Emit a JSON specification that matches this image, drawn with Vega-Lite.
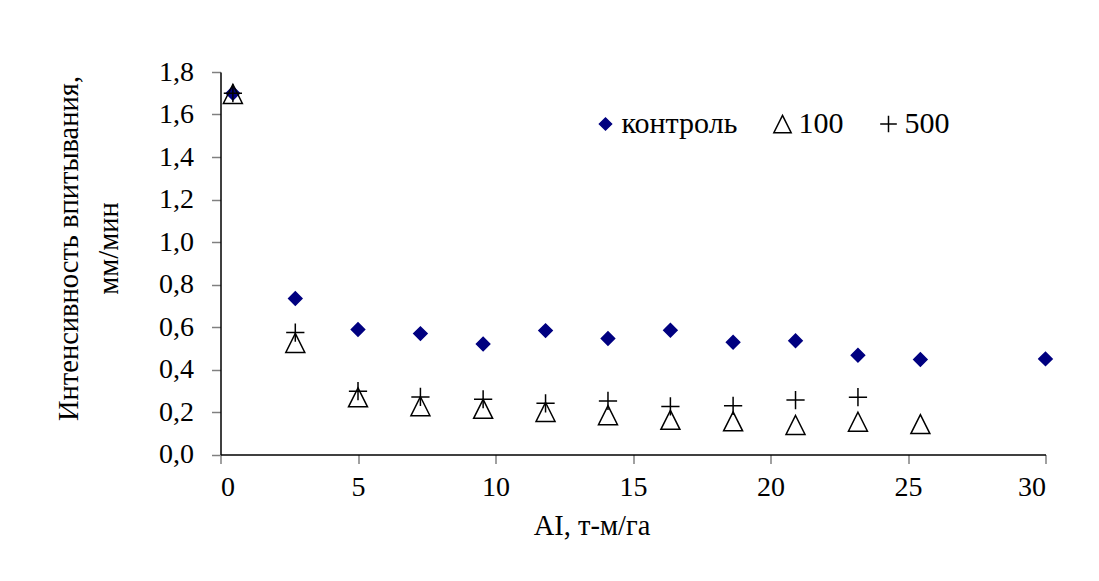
{
  "$schema": "https://vega.github.io/schema/vega-lite/v6.json",
  "autosize": "none",
  "width": 825,
  "height": 382.5,
  "padding": {"left": 220.5, "top": 72, "right": 53.5, "bottom": 126.5},
  "background": "white",
  "config": {
    "locale": {"number": {"decimal": ",", "thousands": " ", "grouping": [3], "currency": ["", ""]}},
    "font": "Liberation Serif",
    "view": {"stroke": null},
    "axis": {
      "grid": false,
      "domainColor": "black",
      "domainWidth": 1.5,
      "tickColor": "#808080",
      "tickWidth": 1.5,
      "tickSize": 9,
      "titleFont": "Liberation Serif",
      "titleFontSize": 28.5,
      "titleFontWeight": "normal",
      "titleColor": "black"
    },
    "legend": {
      "symbolSize": 300,
      "symbolStrokeWidth": 1.5
    }
  },
  "data": {
    "values": [
      {"ai": 0.45, "v": 1.70, "series": "контроль"},
      {"ai": 2.72, "v": 0.734, "series": "контроль"},
      {"ai": 5.0, "v": 0.588, "series": "контроль"},
      {"ai": 7.27, "v": 0.569, "series": "контроль"},
      {"ai": 9.55, "v": 0.52, "series": "контроль"},
      {"ai": 11.82, "v": 0.583, "series": "контроль"},
      {"ai": 14.09, "v": 0.546, "series": "контроль"},
      {"ai": 16.36, "v": 0.585, "series": "контроль"},
      {"ai": 18.64, "v": 0.528, "series": "контроль"},
      {"ai": 20.91, "v": 0.535, "series": "контроль"},
      {"ai": 23.18, "v": 0.467, "series": "контроль"},
      {"ai": 25.45, "v": 0.447, "series": "контроль"},
      {"ai": 30.0, "v": 0.45, "series": "контроль"},
      {"ai": 0.45, "v": 1.697, "series": "100"},
      {"ai": 2.72, "v": 0.525, "series": "100"},
      {"ai": 5.0, "v": 0.269, "series": "100"},
      {"ai": 7.27, "v": 0.227, "series": "100"},
      {"ai": 9.55, "v": 0.215, "series": "100"},
      {"ai": 11.82, "v": 0.2, "series": "100"},
      {"ai": 14.09, "v": 0.185, "series": "100"},
      {"ai": 16.36, "v": 0.163, "series": "100"},
      {"ai": 18.64, "v": 0.156, "series": "100"},
      {"ai": 20.91, "v": 0.139, "series": "100"},
      {"ai": 23.18, "v": 0.154, "series": "100"},
      {"ai": 25.45, "v": 0.143, "series": "100"},
      {"ai": 0.45, "v": 1.70, "series": "500"},
      {"ai": 2.72, "v": 0.574, "series": "500"},
      {"ai": 5.0, "v": 0.298, "series": "500"},
      {"ai": 7.27, "v": 0.271, "series": "500"},
      {"ai": 9.55, "v": 0.26, "series": "500"},
      {"ai": 11.82, "v": 0.241, "series": "500"},
      {"ai": 14.09, "v": 0.252, "series": "500"},
      {"ai": 16.36, "v": 0.226, "series": "500"},
      {"ai": 18.64, "v": 0.229, "series": "500"},
      {"ai": 20.91, "v": 0.256, "series": "500"},
      {"ai": 23.18, "v": 0.27, "series": "500"}
    ]
  },
  "mark": {"type": "point", "strokeWidth": 1.5, "opacity": 1, "size": 361},
  "encoding": {
    "x": {
      "field": "ai",
      "type": "quantitative",
      "scale": {"domain": [0, 30], "nice": false, "zero": true},
      "axis": {
        "values": [0, 5, 10, 15, 20, 25, 30],
        "labelFont": "Liberation Serif",
        "labelFontSize": 28,
        "labelColor": "black",
        "title": "AI, т-м/га",
        "labelPadding": 10,
        "titleX": 371,
        "titleY": 80,
        "titleBaseline": "alphabetic",
        "titleAnchor": "middle",
        "titlePadding": 0
      }
    },
    "y": {
      "field": "v",
      "type": "quantitative",
      "scale": {"domain": [0, 1.8], "nice": false},
      "axis": {
        "values": [0, 0.2, 0.4, 0.6, 0.8, 1.0, 1.2, 1.4, 1.6, 1.8],
        "format": ".1f",
        "labelFont": "Liberation Serif",
        "labelFontSize": 28,
        "labelColor": "black",
        "labelPadding": 18,
        "title": ["Интенсивность впитывания,", "мм/мин"],
        "titleAngle": -90,
        "titleX": -143.5,
        "titleY": 176,
        "titleAlign": "center",
        "titleBaseline": "alphabetic",
        "titleLineHeight": 40
      }
    },
    "shape": {
      "field": "series",
      "type": "nominal",
      "scale": {
        "domain": ["контроль", "100", "500"],
        "range": ["M-0.7,0L0,-0.7L0.7,0L0,0.7Z", "M0,-1L1,1L-1,1Z", "M-0.96,0L0.96,0M0,-0.96L0,0.96"]
      },
      "legend": {
        "title": null,
        "orient": "none",
        "direction": "horizontal",
        "legendX": 370,
        "legendY": 37,
        "columnPadding": 30,
        "labelOffset": 1,
        "labelFont": "Liberation Serif",
        "labelFontSize": 30,
        "labelColor": "black"
      }
    },
    "fill": {
      "field": "series",
      "type": "nominal",
      "scale": {"domain": ["контроль", "100", "500"], "range": ["#000080", "transparent", "transparent"]},
      "legend": {
        "title": null,
        "orient": "none",
        "direction": "horizontal",
        "legendX": 370,
        "legendY": 37,
        "columnPadding": 30,
        "labelOffset": 1,
        "labelFont": "Liberation Serif",
        "labelFontSize": 30,
        "labelColor": "black"
      }
    },
    "stroke": {
      "field": "series",
      "type": "nominal",
      "scale": {"domain": ["контроль", "100", "500"], "range": ["#000080", "black", "black"]},
      "legend": {
        "title": null,
        "orient": "none",
        "direction": "horizontal",
        "legendX": 370,
        "legendY": 37,
        "columnPadding": 30,
        "labelOffset": 1,
        "labelFont": "Liberation Serif",
        "labelFontSize": 30,
        "labelColor": "black"
      }
    }
  }
}
